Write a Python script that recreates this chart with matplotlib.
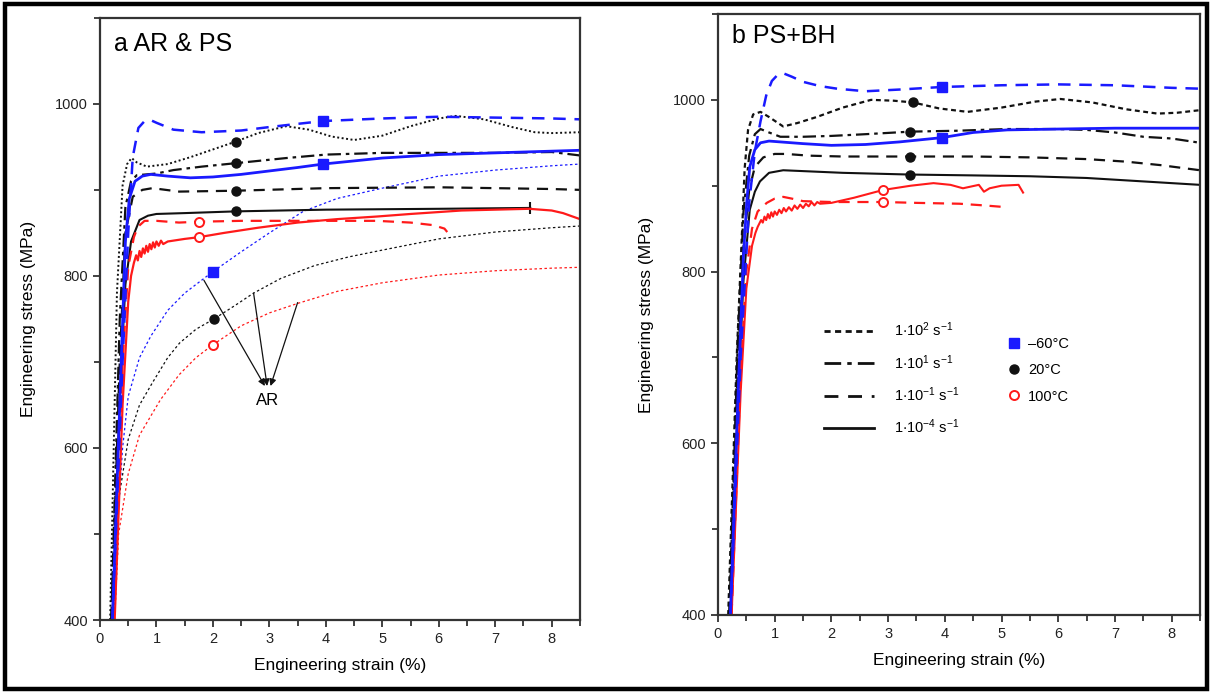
import matplotlib
matplotlib.use("Agg")
import matplotlib.pyplot as plt
from matplotlib.lines import Line2D
from matplotlib.patches import Rectangle
from matplotlib.ticker import MultipleLocator

plt.rcParams['font.family'] = ['Liberation Sans', 'DejaVu Sans']
plt.rcParams['mathtext.default'] = 'regular'

BLUE = '#1a1aff'
BLACK = '#111111'
RED = '#ff1a1a'

LS_1E2 = (0, (2.2, 1.6))
LS_1E1 = (0, (6, 2.2, 1.6, 2.2))
LS_1EM1 = (0, (5, 3.5))
LS_1EM4 = '-'

# ---------------- (a) AR & PS ----------------
a_blue_dash_x = [0.22, 0.40, 0.50, 0.58, 0.68, 0.79, 0.90, 1.0, 1.3, 1.8, 2.5, 3.0, 3.4, 3.95, 5.0, 6.0, 7.0, 8.0, 8.5]
a_blue_dash_y = [400, 700, 850, 938, 972, 980, 981, 978, 970, 967, 969, 973, 976, 980, 983, 985, 984, 983, 982]

a_black_dot_x = [0.18, 0.30, 0.40, 0.48, 0.56, 0.65, 0.83, 1.2, 1.6, 2.0, 2.4, 2.8, 3.3, 3.7, 4.1, 4.5, 5.0, 5.5, 6.0, 6.3, 6.8, 7.3, 7.7, 8.0, 8.5]
a_black_dot_y = [400, 780, 905, 930, 937, 932, 927, 930, 938, 947, 956, 966, 974, 970, 962, 958, 963, 974, 983, 986, 982, 973, 967, 966, 967]

a_black_dd_x = [0.20, 0.35, 0.45, 0.55, 0.65, 1.0, 1.3, 1.8, 2.4, 3.3, 4.0, 5.0, 6.0, 7.0, 8.0, 8.5]
a_black_dd_y = [400, 750, 880, 910, 917, 919, 923, 927, 931, 937, 941, 943, 943, 943, 944, 940]

a_blue_sol_x = [0.22, 0.35, 0.45, 0.52, 0.62, 0.75, 0.90, 1.2, 1.6, 2.0, 2.5, 3.0, 3.5, 3.95, 5.0, 6.0, 7.0, 8.0, 8.5]
a_blue_sol_y = [400, 650, 840, 890, 910, 916, 918, 916, 914, 915, 918, 922, 926, 930, 937, 941, 943, 945, 946]

a_black_dash_x = [0.20, 0.35, 0.45, 0.58, 0.75, 0.93, 1.4, 2.4, 4.0, 6.0, 8.0, 8.5]
a_black_dash_y = [400, 700, 850, 892, 900, 902, 898, 899, 902, 903, 901, 900]

a_black_sol_x = [0.22, 0.35, 0.45, 0.55, 0.70, 0.85, 1.0, 1.5, 2.4, 4.0, 6.0, 7.62]
a_black_sol_y = [400, 660, 790, 840, 865, 870, 872, 873, 875, 877, 878, 879]

a_red_dash_x = [0.24, 0.40, 0.50, 0.60, 0.67, 0.79, 1.0, 1.4, 1.75, 2.5, 3.5, 4.9, 5.5, 5.9, 6.1, 6.15]
a_red_dash_y = [400, 700, 810, 845, 857, 864, 864, 862, 863, 864, 864, 864, 862, 859, 855, 851]

a_red_sol_x = [0.26, 0.40, 0.50, 0.55, 0.60, 0.64, 0.67, 0.70, 0.73, 0.76, 0.79, 0.82, 0.85, 0.88, 0.91, 0.94, 0.97,
               1.0, 1.04, 1.08, 1.12, 1.2, 1.3, 1.5, 1.75, 2.2, 2.8, 3.5, 4.2, 4.9, 5.5, 6.4, 7.0, 7.6, 8.0, 8.2, 8.5]
a_red_sol_y = [400, 650, 770, 800, 815, 824, 818, 829, 822, 832, 826, 835, 828, 837, 831, 839, 833,
               840, 835, 841, 837, 840, 841, 843, 845, 850, 856, 862, 866, 869, 872, 876, 877, 878, 876, 873, 866]

# AR (as received) curves
ar_blue_x = [0.24, 0.32, 0.40, 0.50, 0.70, 0.90, 1.2, 1.5, 2.0, 2.5, 3.0, 3.6, 4.2, 5.0, 6.0, 7.0, 8.0, 8.5]
ar_blue_y = [400, 520, 600, 660, 705, 730, 760, 780, 805, 828, 850, 875, 890, 902, 916, 923, 928, 930]

ar_black_x = [0.22, 0.33, 0.50, 0.70, 0.93, 1.2, 1.41, 1.7, 2.02, 2.4, 2.72, 3.2, 3.8, 4.4, 5.0, 6.0, 7.0, 8.0, 8.5]
ar_black_y = [400, 540, 610, 650, 676, 705, 722, 738, 750, 766, 780, 797, 812, 822, 830, 843, 851, 856, 858]

ar_red_x = [0.26, 0.33, 0.50, 0.70, 1.07, 1.4, 1.7, 2.0, 2.5, 3.0, 3.5, 4.2, 5.0, 6.0, 7.0, 8.0, 8.5]
ar_red_y = [400, 500, 570, 615, 656, 685, 705, 720, 742, 757, 768, 782, 792, 801, 806, 809, 810]

# symbol positions (a)
a_sq_x, a_sq_y = [3.95, 3.95, 2.0], [980, 930, 805]
a_dot_x, a_dot_y = [2.4, 2.4, 2.4, 2.4, 2.02], [956, 931, 899, 875, 750]
a_ring_x, a_ring_y = [1.75, 1.75, 2.0], [863, 845, 720]

# ---------------- (b) PS+BH ----------------
b_blue_dash_x = [0.22, 0.40, 0.55, 0.65, 0.75, 0.85, 0.95, 1.05, 1.15, 1.3, 1.5, 1.8, 2.1, 2.6, 3.2, 3.95, 5.0, 6.0, 7.0, 8.0, 8.5]
b_blue_dash_y = [400, 700, 880, 940, 975, 1005, 1022, 1029, 1031, 1027, 1021, 1016, 1013, 1010, 1012, 1015, 1017, 1018, 1017, 1014, 1013]

b_black_dot_x = [0.18, 0.33, 0.42, 0.47, 0.53, 0.62, 0.75, 0.90, 1.15, 1.4, 1.74, 2.2, 2.7, 3.1, 3.44, 3.9, 4.4,
                 5.0, 5.6, 6.04, 6.6, 7.2, 7.75, 8.1, 8.5]
b_black_dot_y = [400, 700, 840, 920, 965, 983, 986, 980, 969, 973, 980, 991, 1000, 999, 997, 990, 986,
                 991, 998, 1001, 997, 989, 984, 985, 988]

b_black_dd_x = [0.20, 0.35, 0.45, 0.55, 0.65, 0.75, 0.90, 1.1, 1.5, 2.0, 2.6, 3.4, 4.2, 5.1, 6.0, 6.5, 7.0, 7.5, 8.0, 8.5]
b_black_dd_y = [400, 720, 870, 935, 960, 966, 962, 957, 957, 958, 960, 963, 964, 966, 966, 965, 962, 957, 955, 950]

b_blue_sol_x = [0.22, 0.35, 0.45, 0.51, 0.56, 0.65, 0.75, 0.90, 1.1, 1.5, 2.0, 2.6, 3.2, 3.95, 4.5, 5.1, 6.0, 7.0, 8.0, 8.5]
b_blue_sol_y = [400, 650, 820, 883, 922, 942, 950, 952, 951, 949, 947, 948, 951, 956, 962, 965, 966, 967, 967, 967]

b_black_dash_x = [0.20, 0.35, 0.45, 0.55, 0.65, 0.80, 1.0, 1.2, 1.6, 2.2, 3.4, 4.5, 5.5, 6.5, 7.2, 7.8, 8.5]
b_black_dash_y = [400, 690, 830, 895, 922, 933, 937, 937, 935, 934, 934, 934, 933, 931, 928, 924, 918]

b_black_sol_x = [0.22, 0.35, 0.45, 0.56, 0.65, 0.74, 0.90, 1.15, 1.5, 2.2, 3.38, 4.5, 5.5, 6.5, 7.5, 8.5]
b_black_sol_y = [400, 650, 790, 872, 893, 905, 915, 918, 917, 915, 913, 912, 911, 909, 905, 901]

b_red_sol_x = [0.24, 0.40, 0.50, 0.60, 0.66, 0.70, 0.73, 0.76, 0.79, 0.82, 0.85, 0.88, 0.91, 0.94, 0.97, 1.0,
               1.04, 1.08, 1.12, 1.16, 1.2, 1.25, 1.3, 1.35, 1.4, 1.45, 1.5, 1.55, 1.6, 1.65, 1.7, 1.75, 1.8,
               2.0, 2.4, 2.91, 3.4, 3.8, 4.1, 4.32, 4.6, 4.69, 4.79, 5.0, 5.3, 5.38]
b_red_sol_y = [400, 660, 780, 830, 845, 852, 856, 860, 857, 864, 860, 867, 862, 869, 864, 870,
               866, 872, 868, 874, 870, 875, 871, 877, 873, 878, 874, 879, 876, 881, 877, 881, 879,
               880, 886, 895, 900, 903, 901, 897, 901, 893, 897, 900, 901, 892]

b_red_dash_x = [0.24, 0.40, 0.50, 0.60, 0.70, 0.86, 1.0, 1.15, 1.3, 1.5, 2.0, 2.91, 3.5, 4.26, 4.7, 5.08]
b_red_dash_y = [400, 680, 800, 850, 870, 880, 885, 887, 885, 882, 881, 881, 880, 879, 877, 875]

# symbol positions (b)
b_sq_x, b_sq_y = [3.95, 3.95], [1015, 956]
b_dot_x, b_dot_y = [3.44, 3.38, 3.38, 3.38], [997, 963, 934, 913]
b_ring_x, b_ring_y = [2.91, 2.91], [895, 881]

rate_labels = ['1$\\cdot$10$^{2}$ s$^{-1}$', '1$\\cdot$10$^{1}$ s$^{-1}$',
               '1$\\cdot$10$^{-1}$ s$^{-1}$', '1$\\cdot$10$^{-4}$ s$^{-1}$']
temp_labels = ['\u201360\u00b0C', '20\u00b0C', '100\u00b0C']


def style_axes(ax):
    ax.set_xlim(0, 8.5)
    ax.set_ylim(400, 1100)
    ax.xaxis.set_major_locator(MultipleLocator(1))
    ax.xaxis.set_minor_locator(MultipleLocator(0.5))
    ax.yaxis.set_major_locator(MultipleLocator(200))
    ax.yaxis.set_minor_locator(MultipleLocator(100))
    ax.tick_params(which='both', direction='out', width=1.3, color='#333333',
                   labelsize=10.5, labelcolor='#222222')
    ax.tick_params(which='major', length=5)
    ax.tick_params(which='minor', length=4)
    for sp in ax.spines.values():
        sp.set_linewidth(1.6)
        sp.set_color('#333333')
    ax.set_xlabel('Engineering strain (%)', fontsize=12.5, labelpad=9)
    ax.set_ylabel('Engineering stress (MPa)', fontsize=12.5, labelpad=14)


def symbols(ax, sq, dot, ring):
    ax.plot(*sq, ls='none', marker='s', ms=6.5, color=BLUE, zorder=5)
    ax.plot(*dot, ls='none', marker='o', ms=6.5, color=BLACK, zorder=5)
    ax.plot(*ring, ls='none', marker='o', ms=6.5, mfc='white', mec=RED, mew=1.4, zorder=5)


fig = plt.figure(figsize=(12.12, 6.93), dpi=100)
ax1 = fig.add_axes([0.0825, 0.1053, 0.396, 0.869])
ax2 = fig.add_axes([0.5924, 0.1126, 0.3977, 0.8672])

# panel a
ax1.plot(ar_blue_x, ar_blue_y, color=BLUE, lw=0.9, ls=(0, (2, 2)))
ax1.plot(ar_black_x, ar_black_y, color=BLACK, lw=0.9, ls=(0, (2, 2)))
ax1.plot(ar_red_x, ar_red_y, color=RED, lw=0.9, ls=(0, (2, 2)))
ax1.plot(a_black_dot_x, a_black_dot_y, color=BLACK, lw=1.4, ls=(0, (1, 1.3)))
ax1.plot(a_black_dd_x, a_black_dd_y, color=BLACK, lw=1.6, ls=LS_1E1)
ax1.plot(a_black_dash_x, a_black_dash_y, color=BLACK, lw=1.6, ls=LS_1EM1)
ax1.plot(a_black_sol_x, a_black_sol_y, color=BLACK, lw=1.5, ls=LS_1EM4)
ax1.plot(a_black_sol_x[-1:], a_black_sol_y[-1:], color=BLACK, marker='|', ms=8, mew=1.5)
ax1.plot(a_red_dash_x, a_red_dash_y, color=RED, lw=1.6, ls=LS_1EM1)
ax1.plot(a_red_sol_x, a_red_sol_y, color=RED, lw=1.6, ls=LS_1EM4)
ax1.plot(a_blue_sol_x, a_blue_sol_y, color=BLUE, lw=2.0, ls=LS_1EM4)
ax1.plot(a_blue_dash_x, a_blue_dash_y, color=BLUE, lw=1.8, ls=LS_1EM1)
symbols(ax1, (a_sq_x, a_sq_y), (a_dot_x, a_dot_y), (a_ring_x, a_ring_y))

# arrows pointing at the AR curves
ar_tip = [(2.92, 672), (2.96, 672), (3.02, 672)]
ar_tail = [(1.84, 795), (2.72, 780), (3.5, 769)]
for tip, tail in zip(ar_tip, ar_tail):
    ax1.annotate('', xy=tip, xytext=tail,
                 arrowprops=dict(arrowstyle='-|>', lw=0.9, color=BLACK,
                                 mutation_scale=10, shrinkA=0, shrinkB=0))
ax1.text(2.97, 655, 'AR', fontsize=12, ha='center', va='center')
ax1.text(0.03, 0.976, 'a AR & PS', transform=ax1.transAxes, fontsize=18,
         ha='left', va='top')
style_axes(ax1)

# panel b
ax2.plot(b_black_dot_x, b_black_dot_y, color=BLACK, lw=1.6, ls=LS_1E2)
ax2.plot(b_black_dd_x, b_black_dd_y, color=BLACK, lw=1.6, ls=LS_1E1)
ax2.plot(b_black_dash_x, b_black_dash_y, color=BLACK, lw=1.6, ls=LS_1EM1)
ax2.plot(b_black_sol_x, b_black_sol_y, color=BLACK, lw=1.5, ls=LS_1EM4)
ax2.plot(b_red_dash_x, b_red_dash_y, color=RED, lw=1.6, ls=LS_1EM1)
ax2.plot(b_red_sol_x, b_red_sol_y, color=RED, lw=1.5, ls=LS_1EM4)
ax2.plot(b_blue_sol_x, b_blue_sol_y, color=BLUE, lw=2.0, ls=LS_1EM4)
ax2.plot(b_blue_dash_x, b_blue_dash_y, color=BLUE, lw=1.8, ls=LS_1EM1)
symbols(ax2, (b_sq_x, b_sq_y), (b_dot_x, b_dot_y), (b_ring_x, b_ring_y))
ax2.text(0.03, 0.984, 'b PS+BH', transform=ax2.transAxes, fontsize=18,
         ha='left', va='top')
style_axes(ax2)

# legends: strain rate (line style) and temperature (symbol)
rate_handles = [Line2D([], [], color=BLACK, lw=2, ls=s) for s in (LS_1E2, LS_1E1, LS_1EM1, LS_1EM4)]
leg1 = ax2.legend(rate_handles, rate_labels, loc='upper left', bbox_to_anchor=(0.22, 0.49),
                  frameon=False, fontsize=10.5, handlelength=3.4, handletextpad=1.4,
                  labelspacing=0.95, borderpad=0, borderaxespad=0)
ax2.add_artist(leg1)
temp_handles = [Line2D([], [], ls='none', marker='s', ms=6.5, color=BLUE),
                Line2D([], [], ls='none', marker='o', ms=6.5, color=BLACK),
                Line2D([], [], ls='none', marker='o', ms=6.5, mfc='white', mec=RED, mew=1.4)]
ax2.legend(temp_handles, temp_labels, loc='upper left', bbox_to_anchor=(0.6, 0.463),
           frameon=False, fontsize=10.5, handlelength=1.0, handletextpad=0.45,
           labelspacing=0.85, borderpad=0, borderaxespad=0)

# outer frame
fig.patches.append(Rectangle((0.004, 0.006), 0.992, 0.988, transform=fig.transFigure,
                             fill=False, lw=3.2, ec='black'))

fig.savefig('out.png', dpi=100)
